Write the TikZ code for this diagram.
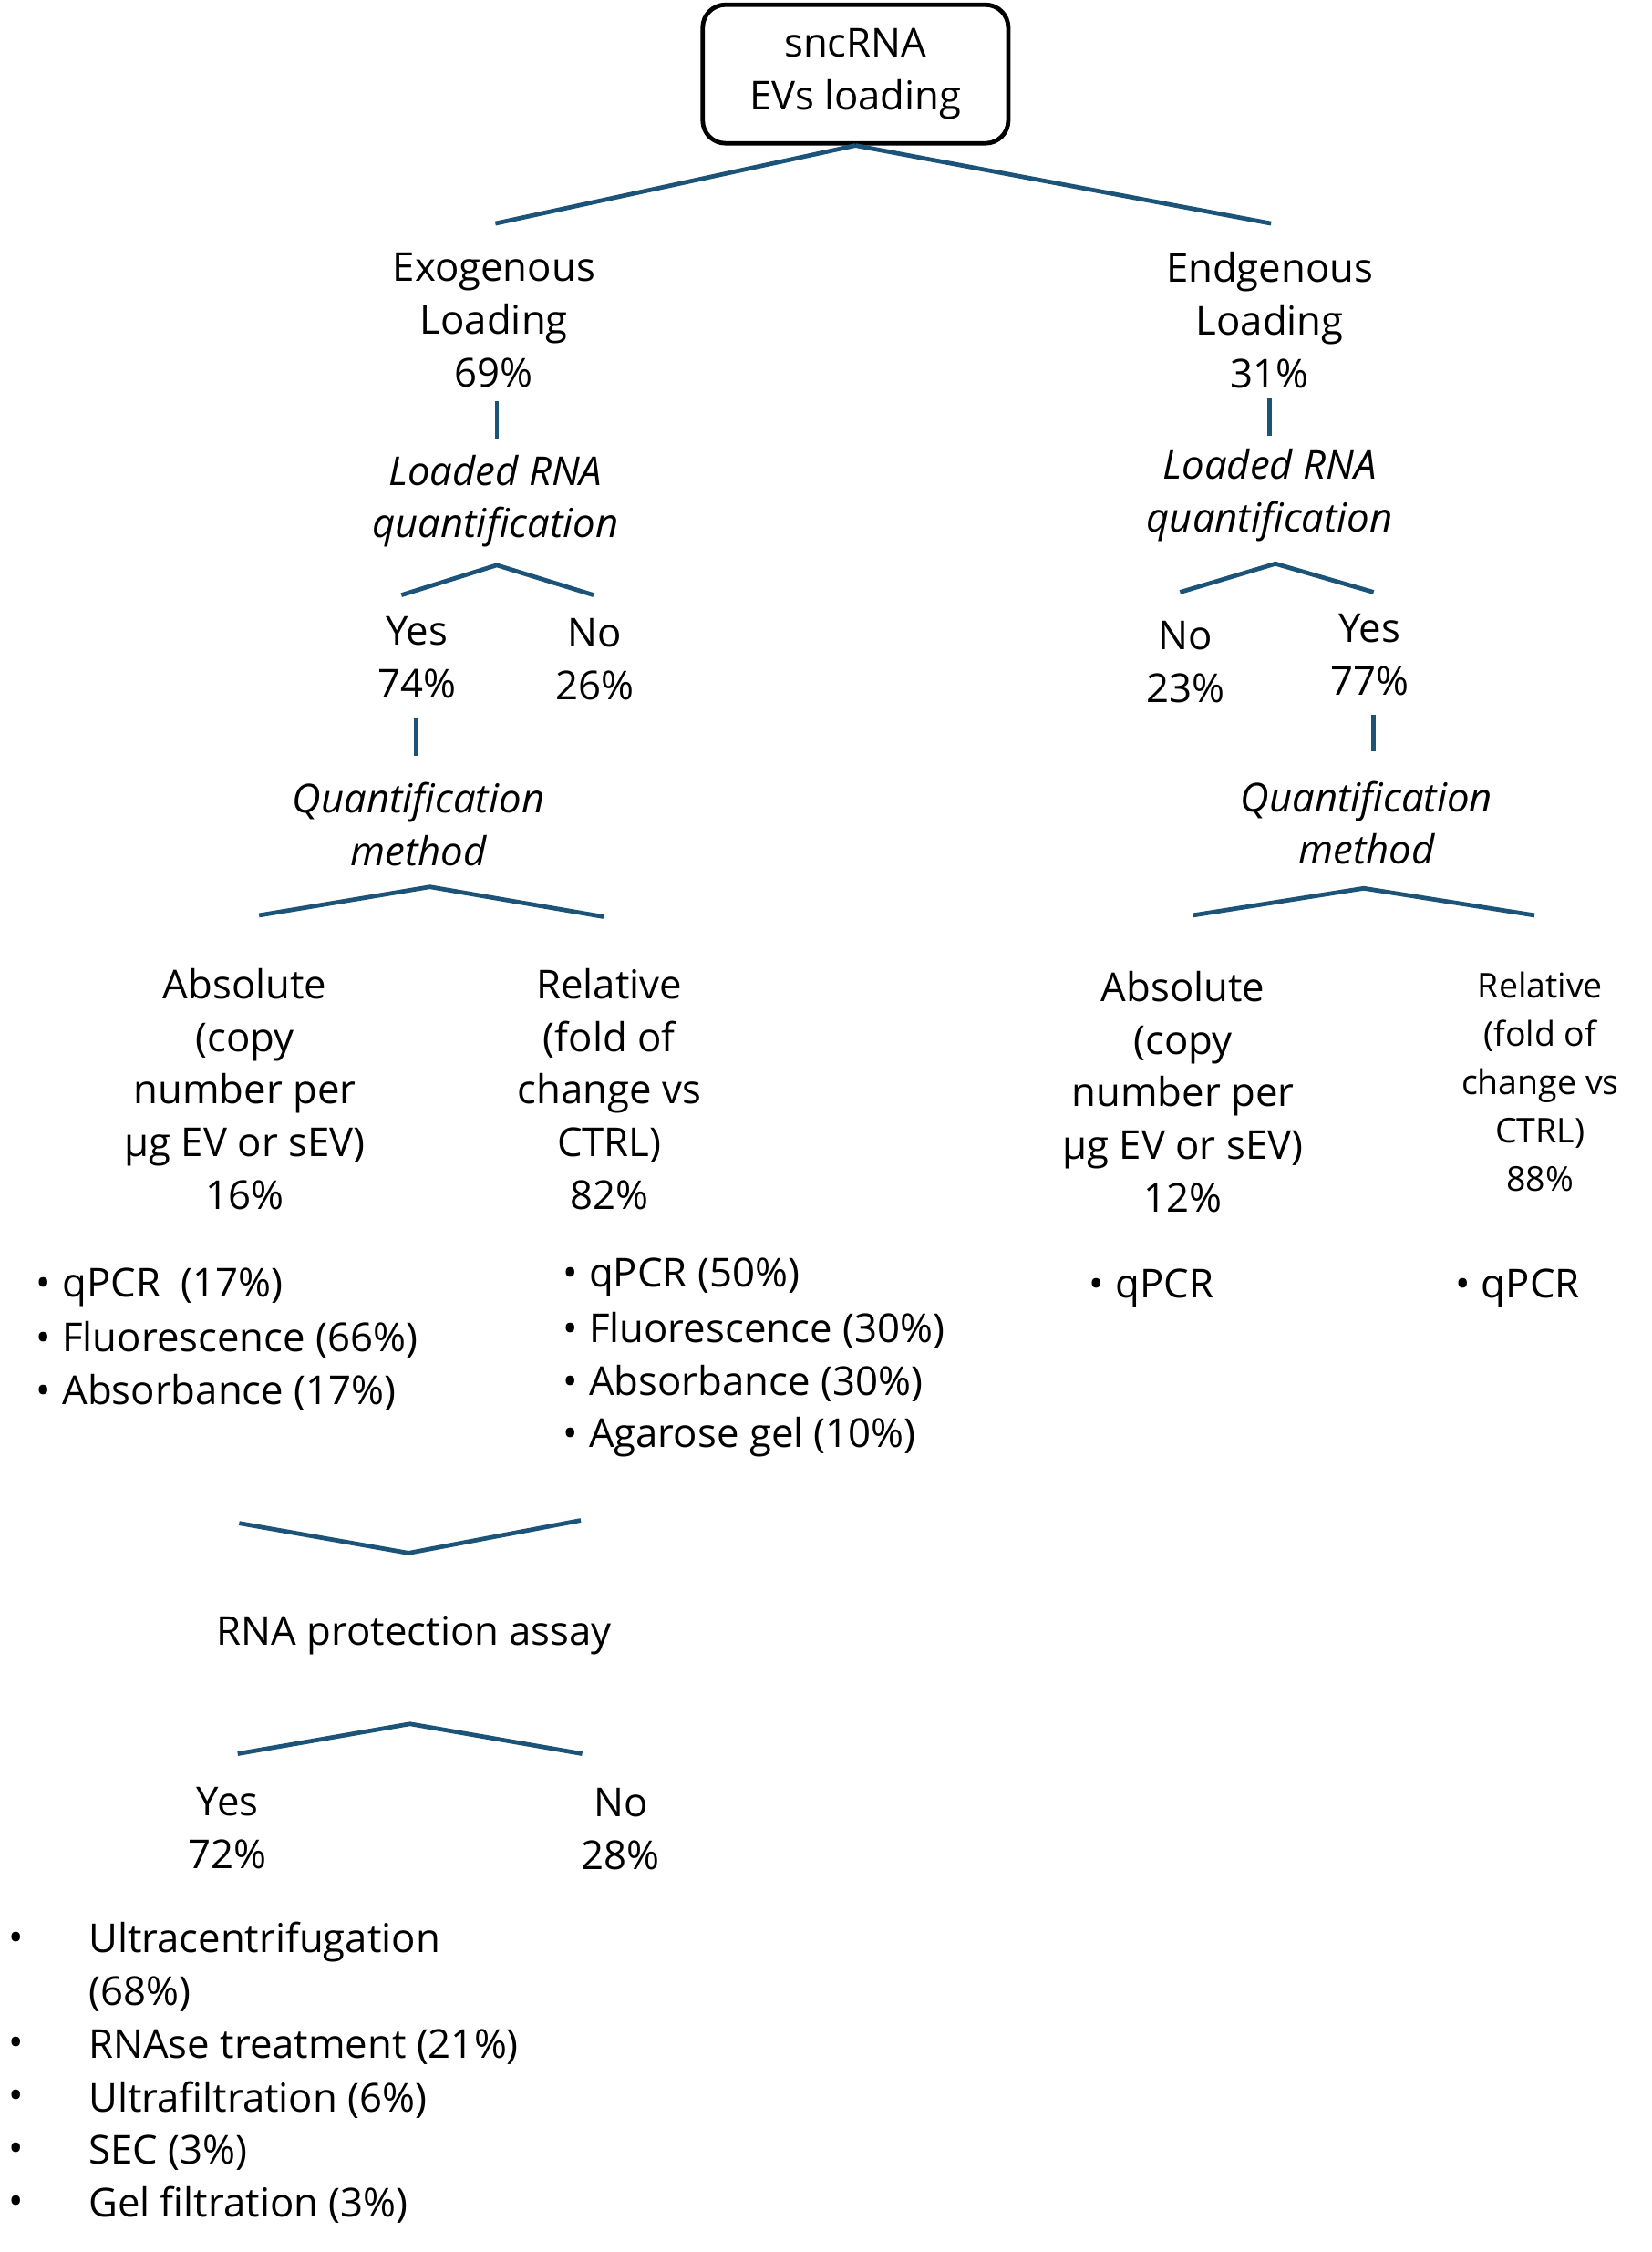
\documentclass[tikz,border=0pt]{standalone}
\usepackage{fontspec}
\setmainfont{Open Sans}
\definecolor{branch}{RGB}{27,84,120}
\tikzset{
  lbl/.style={align=center,inner sep=0pt,font=\fontsize{21}{27.75}\selectfont},
  sml/.style={align=center,inner sep=0pt,font=\fontsize{18}{25.5}\selectfont},
  itl/.style={lbl,font=\fontsize{21}{27.75}\selectfont\itshape},
  lst/.style={anchor=west,inner sep=0pt,font=\fontsize{21}{27.75}\selectfont},
  br/.style={draw=branch,line width=2.3pt},
}
\begin{document}
\begin{tikzpicture}[x=0.75pt,y=0.75pt,yscale=-1,xscale=1]
\useasboundingbox (0,0) rectangle (1160,1582);

% root
\node[lbl,draw=black,line width=2.3pt,rounded corners=12pt,minimum width=161pt,minimum height=73pt] (root) at (601,52) {sncRNA\\EVs loading};
\coordinate (exoT) at (348,157); \coordinate (endT) at (893,157);
\draw[br] (root.south) -- (exoT);
\draw[br] (root.south) -- (endT);

% exogenous branch
\node[lbl] (exo) at (347,225) {Exogenous\\Loading\\69\%};
\coordinate (exoA) at (349,282); \coordinate (exoB) at (349,308);
\draw[br] (exoA) -- (exoB);
\node[itl] (exoq) at (348,352) {Loaded RNA\\quantification};
\coordinate (eqL) at (282,418); \coordinate (eqM) at (349,397); \coordinate (eqR) at (417,418);
\draw[br] (eqL) -- (eqM) -- (eqR);
\node[lbl] (exoyes) at (293,462) {Yes\\74\%};
\node[lbl] (exono) at (418,463) {No\\26\%};
\coordinate (eyA) at (292,504); \coordinate (eyB) at (292,531);
\draw[br] (eyA) -- (eyB);
\node[itl] (exom) at (294,579) {Quantification\\method};
\coordinate (emL) at (182,643); \coordinate (emM) at (302,623); \coordinate (emR) at (424,644);
\draw[br] (emL) -- (emM) -- (emR);
\node[lbl] (exoabs) at (172,765) {Absolute\\(copy\\number per\\µg EV or sEV)\\16\%};
\node[lbl] (exorel) at (428,765) {Relative\\(fold of\\change vs\\CTRL)\\82\%};
\foreach \t [count=\i] in {qPCR~ (17\%),Fluorescence (66\%),Absorbance (17\%)}
  \node[lst] (exoabs\i) at (25,867+37*\i) {•\hspace{6pt}\t};
\foreach \t [count=\i] in {qPCR (50\%),Fluorescence (30\%),Absorbance (30\%),Agarose gel (10\%)}
  \node[lst] (exorel\i) at (395,860+37.3*\i) {•\hspace{6pt}\t};

% protection assay
\coordinate (pvL) at (168,1070); \coordinate (pvM) at (287,1091); \coordinate (pvR) at (408,1068);
\draw[br] (pvL) -- (pvM) -- (pvR);
\node[lbl] (prot) at (291,1149) {RNA protection assay};
\coordinate (ppL) at (167,1232); \coordinate (ppM) at (288,1211); \coordinate (ppR) at (409,1232);
\draw[br] (ppL) -- (ppM) -- (ppR);
\node[lbl] (protyes) at (160,1284) {Yes\\72\%};
\node[lbl] (protno) at (436,1285) {No\\28\%};
\foreach \t/\y in {Ultracentrifugation/1364,RNAse treatment (21\%)/1438,Ultrafiltration (6\%)/1475,SEC (3\%)/1512,Gel filtration (3\%)/1549}{
  \node[lst] at (6,\y) {•};
  \node[lst] at (62,\y) {\t};
}
\node[lst] (uc) at (62,1401) {(68\%)};

% endogenous branch
\node[lbl] (end) at (892,225) {Endgenous\\Loading\\31\%};
\coordinate (endA) at (892,280); \coordinate (endB) at (892,306);
\draw[br] (endA) -- (endB);
\node[itl] (endq) at (892,348) {Loaded RNA\\quantification};
\coordinate (nqL) at (829,416); \coordinate (nqM) at (896,396); \coordinate (nqR) at (965,416);
\draw[br] (nqL) -- (nqM) -- (nqR);
\node[lbl] (endno) at (833,465) {No\\23\%};
\node[lbl] (endyes) at (962,460) {Yes\\77\%};
\coordinate (nyA) at (965,502); \coordinate (nyB) at (965,528);
\draw[br] (nyA) -- (nyB);
\node[itl] (endm) at (960,578) {Quantification\\method};
\coordinate (nmL) at (838,643); \coordinate (nmM) at (958,624); \coordinate (nmR) at (1078,643);
\draw[br] (nmL) -- (nmM) -- (nmR);
\node[lbl] (endabs) at (831,767) {Absolute\\(copy\\number per\\µg EV or sEV)\\12\%};
\node[sml] (endrel) at (1082,760) {Relative\\(fold of\\change vs\\CTRL)\\88\%};
\node[lst] (endabs1) at (765,905) {•\hspace{6pt}qPCR};
\node[lst] (endrel1) at (1022,905) {•\hspace{6pt}qPCR};
\end{tikzpicture}
\end{document}
